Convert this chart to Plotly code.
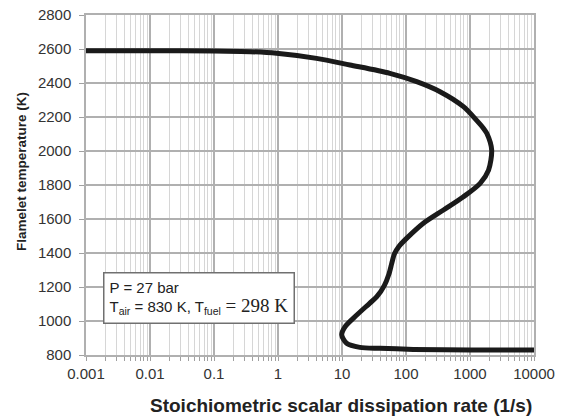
import plotly.graph_objects as go

chi = [0.001, 0.01, 0.1, 0.37, 0.95, 4, 13.3, 56, 147, 340, 790, 1260, 1630, 1830,
       2180, 1950, 1440, 790, 385, 187, 102, 78, 66, 60, 54, 46, 35, 27, 17, 11.2, 9.9,
       11.8, 19, 39, 130, 1000, 10000]
temp = [2590, 2590, 2588, 2584, 2575, 2545, 2506, 2457, 2408, 2349, 2261, 2182, 2133,
        2104, 2006, 1888, 1810, 1731, 1653, 1575, 1486, 1440, 1395, 1340, 1275, 1210,
        1143, 1104, 1035, 967, 918, 869, 845, 839, 833, 830, 830]

x_tickvals = [0.001, 0.01, 0.1, 1, 10, 100, 1000, 10000]
x_ticktext = ["0.001", "0.01", "0.1", "1", "10", "100", "1000", "10000"]
y_tickvals = [800, 1000, 1200, 1400, 1600, 1800, 2000, 2200, 2400, 2600, 2800]

minor_vals = [m * 10.0 ** e for e in range(-3, 4) for m in range(2, 10)]

FONT = "Liberation Sans, Arial, sans-serif"

fig = go.Figure()
fig.add_trace(go.Scatter(x=chi, y=temp, mode="lines",
                         line=dict(color="#1a1a1a", width=5, shape="spline", smoothing=0.8),
                         showlegend=False, hoverinfo="skip"))

fig.update_layout(
    width=565, height=416,
    margin=dict(l=86, r=31, t=15, b=61),
    paper_bgcolor="white", plot_bgcolor="white",
    font=dict(family=FONT, color="#333333", size=15),
    xaxis=dict(
        type="log", range=[-3, 4], automargin=False,
        tickvals=x_tickvals, ticktext=x_ticktext,
        showgrid=True, gridcolor="#b0b0b0", gridwidth=1.5,
        minor=dict(tickvals=minor_vals, showgrid=True, gridcolor="#d6d6d6", gridwidth=1,
                   ticks="outside", ticklen=4, tickcolor="#a0a0a0"),
        showline=True, linecolor="#b0b0b0", linewidth=1.5, mirror=True,
        ticks="outside", ticklen=4, tickcolor="#a0a0a0",
        tickfont=dict(size=15, color="#333333"),
        zeroline=False,
    ),
    yaxis=dict(
        range=[800, 2800], tickvals=y_tickvals, automargin=False,
        showgrid=True, gridcolor="#b0b0b0", gridwidth=1.5,
        showline=True, linecolor="#b0b0b0", linewidth=1.5, mirror=True,
        ticks="outside", ticklen=5, tickcolor="#a0a0a0",
        ticklabelstandoff=5,
        tickfont=dict(size=15, color="#333333"),
        zeroline=False,
    ),
)

# axis titles (offset as in the reference)
fig.add_annotation(
    xref="paper", yref="paper", x=(341 - 86) / 448, y=(355 - 405) / 340,
    xanchor="center", yanchor="middle", showarrow=False,
    text="<b>Stoichiometric scalar dissipation rate (1/s)</b>",
    font=dict(family=FONT, size=19, color="#222222"),
)
fig.add_annotation(
    xref="paper", yref="paper", x=(21 - 86) / 448, y=(355 - 172) / 340,
    xanchor="center", yanchor="middle", showarrow=False, textangle=-90,
    text="<b>Flamelet temperature (K)</b>",
    font=dict(family=FONT, size=13.5, color="#222222"),
)

fig.add_annotation(
    xref="paper", yref="paper", x=(103 - 86) / 448, y=(355 - 272) / 340,
    xanchor="left", yanchor="top", align="left", showarrow=False,
    text=("P = 27 bar<br>T<sub>air</sub> = 830 K, T<sub>fuel</sub>"
          "<span style='font-family:Liberation Serif, Times New Roman, serif;font-size:19px'> = 298 K</span>"),
    font=dict(family=FONT, size=15, color="#222222"),
    bgcolor="white", bordercolor="#707070", borderwidth=1.5, borderpad=5,
)

fig.write_html("out.html")
